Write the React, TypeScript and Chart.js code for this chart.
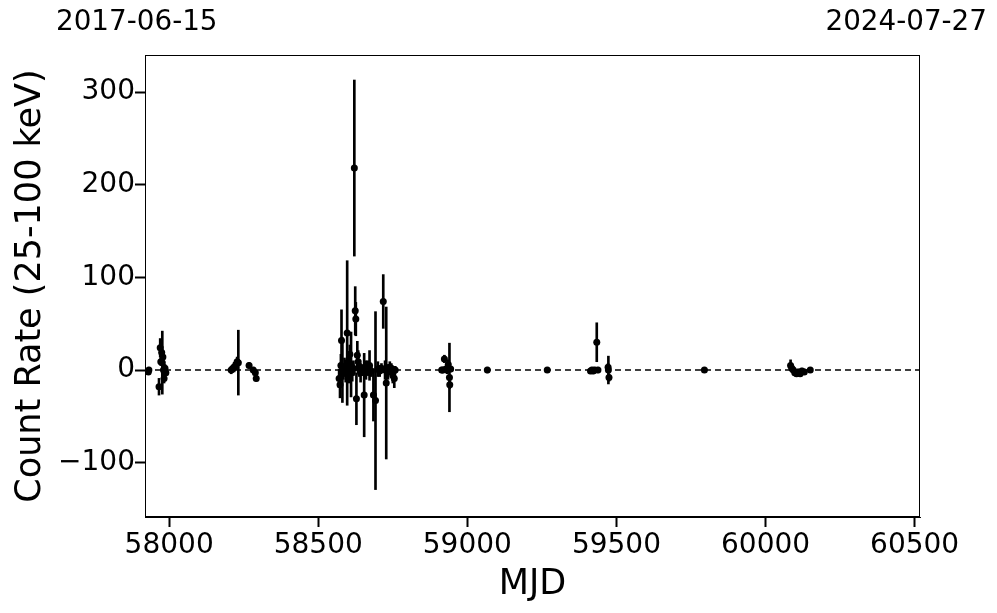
import React, { useEffect, useRef } from "react";
import { Chart, registerables } from "chart.js";

Chart.register(...registerables);

const mjd = [
  57930, 57932, 57966, 57970, 57972, 57975, 57977, 57979, 57981, 57983, 57986, 57989,
  58208, 58214, 58218, 58224, 58228, 58232, 58268, 58282, 58289, 58292,
  58570, 58573, 58576, 58578, 58581, 58584, 58588, 58592, 58597, 58602, 58606, 58610,
  58614, 58618, 58621, 58624, 58626, 58628, 58631, 58634, 58638, 58642, 58646, 58654,
  58660, 58666, 58672, 58678, 58685, 58692, 58700, 58706, 58712, 58718, 58724, 58728,
  58734, 58740, 58745, 58750, 58755, 58758,
  58914, 58918, 58923, 58928, 58932, 58936, 58940, 58941, 58944,
  59067, 59268,
  59413, 59418, 59422, 59427, 59434, 59438, 59472, 59473, 59475,
  59795,
  60084, 60088, 60093, 60098, 60104, 60110, 60116, 60122, 60130, 60150,
];
const rate = [
  -2, 0, -18, 24, 9, 19, 8, 14, 0, -9, 2, -3,
  0, 2, 3, 6, 9, 8, 5, 0, -3, -9,
  -9, -16, 5, 32, 0, -2, 3, -1, 40, 0, 17, 6,
  -2, 2, 218, 64, 55, -31, 16, 9, 1, -3, 0, -27,
  0, 2, 5, -1, -27, -33, 1, -1, 2, 74, 0, -14,
  -2, 3, 2, -6, -9, 0,
  0, 0, 12, 1, 0, 6, -8, -16, 1,
  0, 0,
  -1, 0, -1, 0, 30, 0, 3, 0, -8,
  0,
  5, 2, 0, -3, -4, -2, -4, -1, -2, 0,
];
const err = [
  3, 3, 9, 10, 4, 6, 34, 5, 5, 5, 4, 3,
  4, 4, 5, 4, 5, 35, 3, 3, 3, 3,
  10, 14, 12, 33, 35, 8, 10, 12, 78, 14, 10, 35,
  10, 8, 95, 26, 18, 28, 15, 12, 8, 10, 6, 45,
  10, 8, 16, 6, 28, 96, 8, 6, 5, 29, 10, 82,
  8, 6, 5, 8, 10, 4,
  3, 3, 4, 3, 4, 5, 37, 4, 3,
  3, 2,
  3, 3, 3, 3, 21, 3, 4, 15, 4,
  2,
  6, 3, 3, 3, 3, 3, 3, 3, 3, 2,
];

const xMin = 57919;
const xMax = 60518;
const yMin = -158.6;
const yMax = 340;
const xTicks = [58000, 58500, 59000, 59500, 60000, 60500];
const yTicks = [-100, 0, 100, 200, 300];
const startDate = "2017-06-15";
const endDate = "2024-07-27";
const xLabel = "MJD";
const yLabel = "Count Rate (25-100 keV)";

const FONT = "'DejaVu Sans', sans-serif";

const frame = {
  id: "frame",
  afterDraw(chart: any) {
    const { ctx, chartArea } = chart;
    ctx.save();
    ctx.strokeStyle = "#000";
    ctx.lineWidth = 1;
    ctx.strokeRect(chartArea.left + 0.5, chartArea.top + 0.5, chartArea.right - chartArea.left - 1, chartArea.bottom - chartArea.top - 1);
    ctx.restore();
  },
};

export default function App() {
  const ref = useRef<HTMLCanvasElement | null>(null);

  useEffect(() => {
    if (!ref.current) return;
    const points = mjd.map((x, i) => ({ x, y: rate[i] }));
    const bars = mjd.map((x, i) => ({ x, y: [rate[i] - err[i], rate[i] + err[i]] }));
    const chart = new Chart(ref.current, {
      type: "scatter",
      data: {
        datasets: [
          {
            type: "scatter",
            data: points,
            backgroundColor: "#000",
            borderColor: "#000",
            pointRadius: 3.5,
            pointBorderWidth: 0,
            order: 0,
          } as any,
          {
            type: "bar",
            data: bars,
            backgroundColor: "#000",
            borderWidth: 0,
            barThickness: 2,
            grouped: false,
            order: 1,
          } as any,
          {
            type: "line",
            data: [
              { x: xMin, y: 0 },
              { x: xMax, y: 0 },
            ],
            borderColor: "#000",
            borderWidth: 1.5,
            borderDash: [6, 4],
            pointRadius: 0,
            fill: false,
            order: 2,
          } as any,
        ],
      },
      options: {
        responsive: false,
        animation: false,
        devicePixelRatio: 1,
        layout: { padding: { left: 0, right: 77, top: 55, bottom: 0 } },
        plugins: { legend: { display: false }, tooltip: { enabled: false } },
        scales: {
          x: {
            type: "linear",
            min: xMin,
            max: xMax,
            offset: false,
            afterFit: (s: any) => {
              s.height = 96;
            },
            afterBuildTicks: (s: any) => {
              s.ticks = xTicks.map((v) => ({ value: v }));
            },
            ticks: {
              includeBounds: false,
              color: "#000",
              font: { family: FONT, size: 28 },
              padding: 2,
              maxRotation: 0,
              autoSkip: false,
              callback: (v: any) => String(v),
            },
            grid: {
              display: true,
              drawOnChartArea: false,
              drawTicks: true,
              tickLength: 10,
              tickWidth: 2,
              tickColor: "#000",
              offset: false,
            },
            border: { display: true, color: "#000", width: 1 },
            title: {
              display: true,
              text: xLabel,
              color: "#000",
              font: { family: FONT, size: 35 },
              padding: { top: 0, bottom: 7 },
            },
          },
          y: {
            type: "linear",
            min: yMin,
            max: yMax,
            afterFit: (s: any) => {
              s.width = 145;
            },
            afterBuildTicks: (s: any) => {
              s.ticks = yTicks.map((v) => ({ value: v }));
            },
            ticks: {
              includeBounds: false,
              color: "#000",
              font: { family: FONT, size: 28 },
              padding: 0,
              callback: (v: any) => (v < 0 ? "\u2212" + Math.abs(v) : String(v)),
            },
            grid: {
              display: true,
              drawOnChartArea: false,
              drawTicks: true,
              tickLength: 10,
              tickWidth: 2,
              tickColor: "#000",
            },
            border: { display: true, color: "#000", width: 1 },
            title: {
              display: true,
              text: yLabel,
              color: "#000",
              font: { family: FONT, size: 35 },
              padding: { top: 10, bottom: 0 },
            },
          },
        },
      },
      plugins: [frame],
    } as any);
    return () => chart.destroy();
  }, []);

  return (
    <div style={{ position: "fixed", left: 0, top: 0, width: 997, height: 613, background: "#fff" }}>
      <canvas ref={ref} width={997} height={613} style={{ width: 997, height: 613, display: "block" }} />
      <div style={{ position: "absolute", left: 56, top: 4, fontFamily: FONT, fontSize: 27.8, color: "#000", whiteSpace: "nowrap" }}>
        {startDate}
      </div>
      <div style={{ position: "absolute", right: 10, top: 4, fontFamily: FONT, fontSize: 27.8, color: "#000", whiteSpace: "nowrap" }}>
        {endDate}
      </div>
    </div>
  );
}
